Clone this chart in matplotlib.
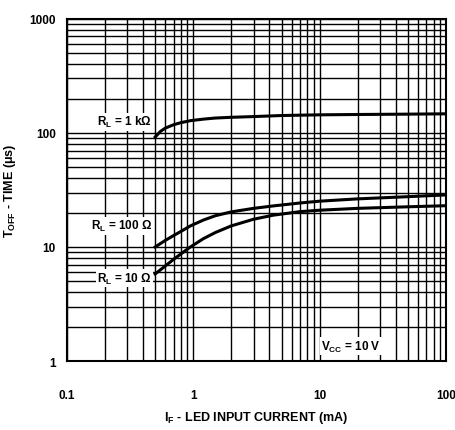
import matplotlib
matplotlib.use("Agg")
import matplotlib.pyplot as plt
from matplotlib.ticker import LogLocator, FixedLocator, FixedFormatter, NullFormatter

plt.rcParams['font.family'] = ['Liberation Sans', 'DejaVu Sans']
plt.rcParams['mathtext.fontset'] = 'custom'
plt.rcParams['mathtext.rm'] = 'Liberation Sans:bold'
plt.rcParams['mathtext.bf'] = 'Liberation Sans:bold'
plt.rcParams['mathtext.it'] = 'Liberation Sans:bold'

# Data
if_1k = [0.5, 0.55, 0.6, 0.7, 0.8, 0.95, 1.2, 1.5, 2, 3, 5, 10, 20, 50, 100]
t_1k = [92, 103, 110, 118, 123, 128, 132, 135, 137, 139, 142, 144, 145, 146, 147]

if_100 = [0.5, 0.6, 0.7, 0.8, 0.95, 1.2, 1.5, 2, 3, 4.3, 7, 10, 20, 50, 100]
t_100 = [10, 11.4, 12.6, 13.7, 15.3, 17.2, 18.8, 20.3, 21.8, 22.9, 24.3, 25.2, 26.4, 27.6, 28.6]

if_10 = [0.5, 0.6, 0.7, 0.8, 0.95, 1.2, 1.5, 2, 3, 4.3, 7, 10, 20, 50, 100]
t_10 = [5.8, 6.8, 7.8, 8.7, 10, 11.8, 13.4, 15.3, 17.5, 19.0, 20.4, 21.0, 21.8, 22.5, 23.0]

x_ticks = [0.1, 1, 10, 100]
x_labels = ["0.1", "1", "10", "100"]
y_ticks = [1, 10, 100, 1000]
y_labels = ["1", "10", "100", "1000"]

fig = plt.figure(figsize=(4.55, 4.31), dpi=100)
ax = fig.add_axes([0.147, 0.160, 0.833, 0.794])
ax.set_xscale('log')
ax.set_yscale('log')
ax.set_xlim(0.1, 100)
ax.set_ylim(1, 1000)

ax.xaxis.set_major_locator(FixedLocator(x_ticks))
ax.xaxis.set_major_formatter(FixedFormatter(x_labels))
ax.yaxis.set_major_locator(FixedLocator(y_ticks))
ax.yaxis.set_major_formatter(FixedFormatter(y_labels))
ax.xaxis.set_minor_locator(LogLocator(base=10, subs=range(2, 10), numticks=20))
ax.yaxis.set_minor_locator(LogLocator(base=10, subs=range(2, 10), numticks=20))
ax.xaxis.set_minor_formatter(NullFormatter())
ax.yaxis.set_minor_formatter(NullFormatter())

ax.grid(True, which='both', color='black', linewidth=1.0)
ax.tick_params(which='both', length=0)
ax.tick_params(axis='x', pad=20, labelsize=8.5)
ax.tick_params(axis='y', pad=8, labelsize=8.5)
for lab in ax.get_xticklabels() + ax.get_yticklabels():
    lab.set_fontweight('bold')
for s in ax.spines.values():
    s.set_linewidth(1.5)

ax.plot(if_1k, t_1k, color='black', lw=2.2)
ax.plot(if_100, t_100, color='black', lw=2.2)
ax.plot(if_10, t_10, color='black', lw=2.2)

bbox = dict(facecolor='white', edgecolor='none', pad=1.0)
ax.text(0.47, 125, r'$\mathbf{R_L}$ = 1 k$\Omega$', fontsize=8.5, fontweight='bold',
        ha='right', va='center', bbox=bbox)
ax.text(0.47, 15.3, r'$\mathbf{R_L}$ = 100 $\Omega$', fontsize=8.5, fontweight='bold',
        ha='right', va='center', bbox=bbox)
ax.text(0.47, 5.3, r'$\mathbf{R_L}$ = 10 $\Omega$', fontsize=8.5, fontweight='bold',
        ha='right', va='center', bbox=bbox)
ax.text(10.3, 1.35, r'$\mathbf{V_{CC}}$ = 10 V', fontsize=8.5, fontweight='bold',
        ha='left', va='center', bbox=bbox)

ax.set_xlabel(r'$\mathbf{I_F}$ - LED INPUT CURRENT (mA)', fontsize=9, fontweight='bold', labelpad=6)
ax.set_ylabel(r'$\mathbf{T_{OFF}}$ - TIME ($\mathbf{\mu}$s)', fontsize=9, fontweight='bold', labelpad=8)

fig.savefig('out.png', dpi=100)
